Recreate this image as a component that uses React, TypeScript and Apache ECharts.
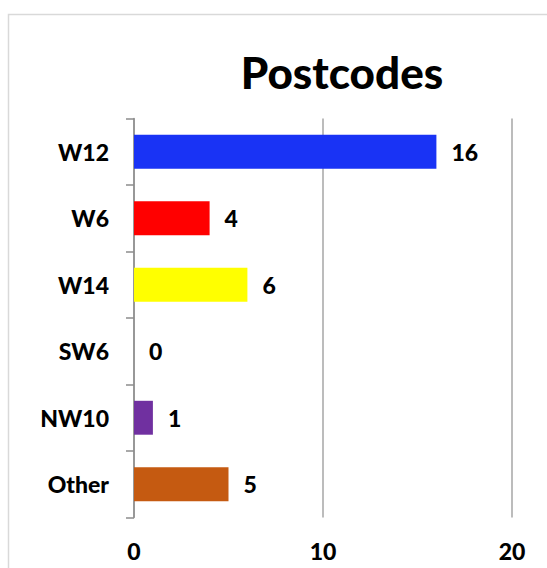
import React, { useEffect, useRef } from "react";
import * as echarts from "echarts";

const categories = ["W12", "W6", "W14", "SW6", "NW10", "Other"];
const values = [16, 4, 6, 0, 1, 5];
const barColors = ["#1933f5", "#ff0000", "#ffff00", "#ffff00", "#7030a0", "#c55a11"];
const xTicks = [0, 10, 20];
const titleText = "Postcodes";

export default function App() {
  const ref = useRef<HTMLDivElement>(null);
  useEffect(() => {
    if (!ref.current) return;
    const chart = echarts.init(ref.current, null, { renderer: "svg" });
    const font = "Lato";
    const weight = 900;
    chart.setOption({
      animation: false,
      backgroundColor: "#ffffff",
      title: {
        text: titleText,
        left: 337,
        top: 45,
        textAlign: "center",
        textStyle: { fontFamily: font, fontWeight: weight, fontSize: 44, color: "#000" },
      },
      graphic: [
        {
          type: "rect",
          shape: { x: 8.5, y: 14.5, width: 700, height: 700 },
          style: { fill: "none", stroke: "#d9d9d9", lineWidth: 1.5 },
          silent: true,
        },
      ],
      grid: { left: 134, right: 35, top: 118.5, bottom: 50.5, containLabel: false },
      xAxis: {
        type: "value",
        min: xTicks[0],
        max: xTicks[xTicks.length - 1],
        interval: 10,
        axisLine: { show: false },
        axisTick: { show: false },
        splitLine: { show: true, lineStyle: { color: "#a6a6a6", width: 1.5 } },
        axisLabel: {
          margin: 22,
          fontFamily: font,
          fontWeight: weight,
          fontSize: 23,
          color: "#000",
        },
      },
      yAxis: {
        type: "category",
        data: categories,
        inverse: true,
        axisLine: { show: true, lineStyle: { color: "#8c8c8c", width: 1.5 } },
        axisTick: { show: true, length: 8, lineStyle: { color: "#8c8c8c", width: 1.5 } },
        axisLabel: {
          margin: 25,
          fontFamily: font,
          fontWeight: weight,
          fontSize: 23,
          color: "#000",
        },
      },
      series: [
        {
          type: "bar",
          barWidth: "51%",
          data: values.map((v, i) => ({ value: v, itemStyle: { color: barColors[i] } })),
          label: {
            show: true,
            position: "right",
            distance: 15,
            fontFamily: font,
            fontWeight: weight,
            fontSize: 23,
            color: "#000",
          },
        },
      ],
    });
    return () => chart.dispose();
  }, []);
  return (
    <div
      ref={ref}
      style={{ position: "absolute", left: 0, top: 0, width: 547, height: 568 }}
    />
  );
}
